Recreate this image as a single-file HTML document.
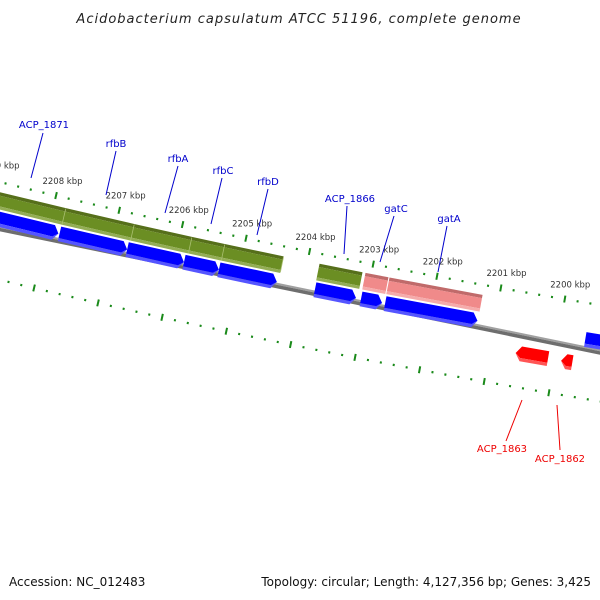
<!DOCTYPE html>
<html><head><meta charset="utf-8"><style>
html,body{margin:0;padding:0;background:#fff;}
svg{display:block;font-family:"DejaVu Sans","Liberation Sans",sans-serif;}
</style></head><body>
<svg id="map" width="600" height="600" viewBox="0 0 600 600" xmlns="http://www.w3.org/2000/svg">
<rect x="0" y="0" width="600" height="600" fill="#fff"/>
<text x="299" y="23" text-anchor="middle" font-size="13" font-style="italic" letter-spacing="1" fill="#222">Acidobacterium capsulatum ATCC 51196, complete genome</text>
<g id="ticks"></g>
<g id="feats"></g>
<g id="labels"></g>
<text x="9" y="586" font-size="12" fill="#111">Accession: NC_012483</text>
<text x="591" y="586" font-size="12" text-anchor="end" fill="#111">Topology: circular; Length: 4,127,356 bp; Genes: 3,425</text>
</svg>
<script>
// data
const blueGenes = [[2207830,2209300],[2206748,2207813],[2205855,2206748],[2205307,2205855],[2204398,2205307],[2203160,2203803],[2202753,2203082],[2201264,2202706],[2198900,2199587]];
const greenGenes = [[2207808,2209300],[2206727,2207808],[2205818,2206727],[2205301,2205818],[2204376,2205301],[2203138,2203812]];
const pinkGenes = [[2202731,2203091],[2201258,2202715]];
const redGenes = [[2200101,2200603],[2199725,2199898]];
const tickStart = 2198800, tickEnd = 2209800, tickStep = 200, majorStep = 1000;
const geneLabels = [
 ["ACP_1871",44,128,31,178,43,133,"#00c"],["rfbB",116,147,106,195,116,151,"#00c"],["rfbA",178,162,165,213,178,166,"#00c"],
 ["rfbC",223,174,211,224,222,178,"#00c"],["rfbD",268,185,257,235,268,189,"#00c"],["ACP_1866",350,202,344,254,347,206,"#00c"],
 ["gatC",396,212,380,262,394,216,"#00c"],["gatA",449,222,438,272,447,226,"#00c"],
 ["ACP_1863",502,452,522,400,506,441,"#e00"],["ACP_1862",560,462,557,405,560,450,"#e00"]];

const NS="http://www.w3.org/2000/svg";
const R=8000, a0=11.5*Math.PI/180, bp0=2204000, kpb=65.3/R/1000;
const Cx=300+R*Math.sin(a0), Cy=298.5-R*Math.cos(a0);
function pt(bp,off){const a=a0+(bp-bp0)*kpb;return [Cx-(R+off)*Math.sin(a), Cy+(R+off)*Math.cos(a)];}
function mk(tag,attrs,parent){const e=document.createElementNS(NS,tag);for(const k in attrs)e.setAttribute(k,attrs[k]);parent.appendChild(e);return e;}
function band(b1,b2,o1,o2){return [pt(b1,o1),pt(b2,o1),pt(b2,o2),pt(b1,o2)].map(p=>p.join(',')).join(' ');}
const feats=document.getElementById('feats'), ticks=document.getElementById('ticks'), labels=document.getElementById('labels');

// backbone
let bb=mk('polygon',{points:band(2198500,2210000,-2,0),fill:'#a0a0a0'},feats);


bb=mk('polygon',{points:band(2198500,2210000,0,3.5),fill:'#6e6e6e'},feats);



// rulers
[-48,47].forEach((off,ri)=>{
 for(let b=tickStart;b<=tickEnd;b+=tickStep){
  const major=b%majorStep===0;
  const p1=pt(b,off-(major?3.5:1)), p2=pt(b,off+(major?3.5:1.2));
  const t=mk('line',{x1:p1[0],y1:p1[1],x2:p2[0],y2:p2[1],stroke:'#1a8a1a','stroke-width':2},ticks);
  
  
  if(major&&ri===0){
   const lp=pt(b,off-15);
   const tx=mk('text',{x:lp[0]+3,y:lp[1]+3,'font-size':8.5,'text-anchor':'middle',fill:'#333'},ticks);
   tx.textContent=(b/1000)+' kbp';
   
   
  }
 }
});

// features
function feature(g,o1,o2,cols,dir,name){
 const [s,e]=g; const ah=80; const grp=mk('g',{},feats);
 
 
 const h=o2-o1;
 if(dir===0){
  mk('polygon',{points:band(s,e,o1,o1+h*0.2),fill:cols[0]},grp);
  mk('polygon',{points:band(s,e,o1+h*0.2,o2-h*0.18),fill:cols[1]},grp);
  mk('polygon',{points:band(s,e,o2-h*0.18,o2),fill:cols[2]},grp);
 } else {
  // arrow: dir 1 tip at low bp (s), dir -1 tip at high bp (e)
  const tip=dir===1?s:e, base=dir===1?Math.min(s+ah,e):Math.max(e-ah,s), tail=dir===1?e:s;
  const mid=(o1+o2)/2, lo=o2-h*0.22;
  const top=[pt(tail,o1),pt(base,o1),pt(tip,mid),pt(base,lo),pt(tail,lo)];
  mk('polygon',{points:top.map(p=>p.join(',')).join(' '),fill:cols[1]},grp);
  const bot=[pt(tail,lo),pt(base,lo),pt(tip,mid+0.1),pt(base,o2),pt(tail,o2)];
  mk('polygon',{points:bot.map(p=>p.join(',')).join(' '),fill:cols[2]},grp);
 }
}
greenGenes.forEach(g=>feature(g,-38,-21,['#566f1a','#6b8e23','#93ad55'],0,'gene-green'));
pinkGenes.forEach(g=>feature(g,-38,-21,['#c06a6a','#f08a8a','#f5abab'],0,'gene-pink'));
blueGenes.forEach(g=>feature(g,-19,-4,['#0000cc','#0000ff','#5555ff'],1,'cds-forward'));
redGenes.forEach(g=>feature(g,6,21,['#cc0000','#ff0000','#ff5555'],-1,'cds-reverse'));
// gene boundary lines in green track
greenGenes.slice(0,5).forEach(g=>{const p1=pt(g[0],-37),p2=pt(g[0],-22);
 const l=mk('line',{x1:p1[0],y1:p1[1],x2:p2[0],y2:p2[1],stroke:'#a9bf70','stroke-width':0.8},feats);
 
 });

// labels
geneLabels.forEach(L=>{
 const [t,x,y,x1,y1,x2,y2,c]=L;
 const ln=mk('line',{x1:x1,y1:y1,x2:x2,y2:y2,stroke:c,'stroke-width':1},labels);
 
 
 const tx=mk('text',{x:x,y:y,'font-size':10,'text-anchor':'middle',fill:c},labels);
 tx.textContent=t;
 
 
});
</script>
</body></html>
